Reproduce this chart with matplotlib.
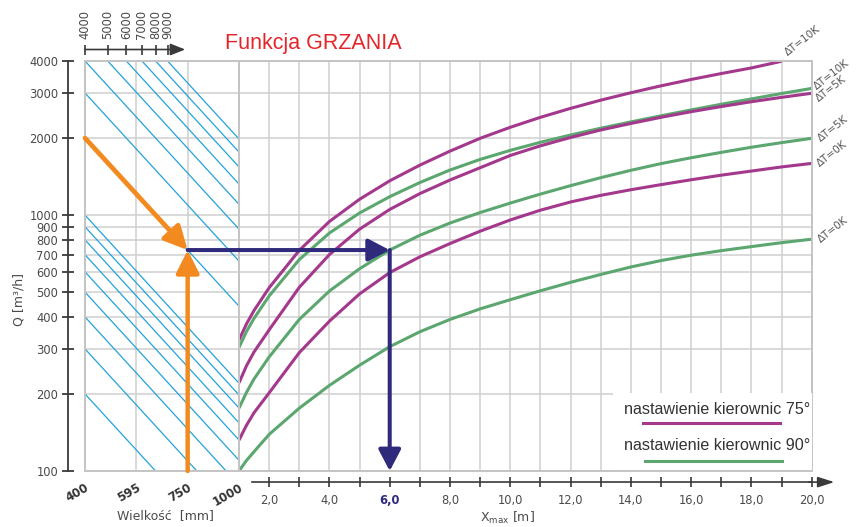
import matplotlib
matplotlib.use("Agg")
import matplotlib.pyplot as plt
from matplotlib.patches import FancyArrowPatch, ConnectionPatch, Rectangle
from matplotlib.ticker import NullLocator, FixedLocator

# ---------------- data ----------------
# Xmax [m] positions of the throw curves
X_CURVE = [1, 1.25, 1.5, 2, 3, 4, 5, 6, 7, 8, 9, 10, 11, 12, 13, 14, 15, 16, 17, 18, 19, 20]
X_75_10K = X_CURVE[:-1]

# Q [m3/h] along each curve
Q75_10K = [325, 376, 424, 520, 728, 944, 1153, 1361, 1567, 1778, 1995, 2203, 2410,
           2612, 2812, 3006, 3199, 3388, 3573, 3758, 3990]
Q75_5K = [221, 258, 292, 356, 522, 701, 881, 1052, 1213, 1371, 1531, 1710, 1865,
          2010, 2150, 2280, 2410, 2535, 2655, 2773, 2884, 2992]
Q75_0K = [132, 151, 169, 202, 290, 385, 492, 596, 687, 774, 865, 957, 1045,
          1125, 1194, 1256, 1315, 1374, 1432, 1486, 1542, 1592]
Q90_10K = [304, 351, 395, 483, 670, 851, 1019, 1180, 1340, 1500, 1650, 1790, 1925,
           2055, 2185, 2312, 2443, 2576, 2710, 2844, 2985, 3126]
Q90_5K = [176, 203, 229, 279, 391, 505, 617, 730, 834, 931, 1023, 1114, 1208,
          1303, 1400, 1496, 1589, 1675, 1758, 1841, 1919, 1995]
Q90_0K = [100, 110, 119, 139, 176, 216, 259, 306, 350, 391, 430, 467, 506,
          546, 586, 627, 664, 697, 726, 753, 780, 805]

# unit size selector (left panel)
SIZES = ["400", "595", "750", "1000"]
SIZE_POS = [0, 1, 2, 3]
# airflow value of each guide line at size 400
GUIDE_Q_AT_400 = [200, 300, 400, 500, 600, 700, 800, 900, 1000,
                  2000, 3000, 4000, 5000, 6000, 7000, 8000, 9000]
# drop of the guide lines per size step, in decades of Q
GUIDE_DECADES_PER_STEP = 0.219
# scale above the selector
TOP_TICKS = [4000, 5000, 6000, 7000, 8000, 9000]

Q_TICKS = [100, 200, 300, 400, 500, 600, 700, 800, 900, 1000, 2000, 3000, 4000]
X_TICKS = list(range(2, 21))

# worked example
EX_Q_START = 2000
EX_SIZE = 2          # 750 mm
EX_Q = 730
EX_X = 6.0

C_M = "#a3388c"
C_G = "#5ca66f"
C_BLUE = "#22a2dd"
C_ORANGE = "#f28a1f"
C_NAVY = "#2f2a7c"
C_GRID = "#cfcfcf"
C_AX = "#3a3a3a"
C_TXT = "#4a4a4a"

W, H = 861, 527
fig = plt.figure(figsize=(W / 100, H / 100), dpi=100)


def box(x0, y0, x1, y1):
    return [x0 / W, 1 - y1 / H, (x1 - x0) / W, (y1 - y0) / H]


ax_l = fig.add_axes(box(85, 61, 239, 471))
ax_r = fig.add_axes(box(239, 61, 811.7, 471))

for ax in (ax_l, ax_r):
    ax.set_yscale("log")
    ax.set_ylim(100, 4000)
    ax.yaxis.set_major_locator(FixedLocator(Q_TICKS))
    ax.yaxis.set_minor_locator(NullLocator())
    ax.grid(True, color=C_GRID, lw=1.1, zorder=0)
    ax.set_axisbelow(True)
    for s in ("top", "right"):
        ax.spines[s].set_color("#c4c4c4")
        ax.spines[s].set_linewidth(1.4)
    ax.axhline(100, color="#c4c4c4", lw=1.4, clip_on=False, zorder=3)

# ---------------- left panel ----------------
ax_l.set_xlim(0, 3)
ax_l.set_xticks(SIZE_POS)
ax_l.set_xticklabels(SIZES)
ax_l.axvline(0, color="#c4c4c4", lw=1.4, clip_on=False, zorder=3)
ax_l.spines["bottom"].set_visible(False)
ax_l.tick_params(axis="x", length=0, pad=7, labelsize=8.5, labelcolor="#333333")
for t in ax_l.get_xticklabels():
    t.set_rotation(30)
    t.set_ha("right")
    t.set_va("top")
    t.set_rotation_mode("anchor")
    t.set_fontweight("bold")

ax_l.spines["left"].set_position(("outward", 12.2))
ax_l.spines["left"].set_color(C_AX)
ax_l.spines["left"].set_linewidth(1.3)
ax_l.set_yticklabels([str(v) for v in Q_TICKS])
ax_l.tick_params(axis="y", direction="inout", length=8, width=1.3, color=C_AX,
                 labelsize=8.3, labelcolor=C_TXT, pad=3)

drop = 10 ** (-GUIDE_DECADES_PER_STEP * SIZE_POS[-1])
for q0 in GUIDE_Q_AT_400:
    ax_l.plot([SIZE_POS[0], SIZE_POS[-1]], [q0, q0 * drop], color=C_BLUE, lw=0.9, zorder=1.8)

# top scale aligned with the guide lines
ax_t = fig.add_axes(box(85, 49.5, 239, 50.5))
ax_t.set_xscale("log")
ax_t.set_xlim(4000, 4000 * 10 ** (GUIDE_DECADES_PER_STEP * SIZE_POS[-1]))
ax_t.set_ylim(0, 1)
ax_t.patch.set_visible(False)
for s in ax_t.spines.values():
    s.set_visible(False)
ax_t.set_yticks([])
ax_t.xaxis.set_major_locator(FixedLocator(TOP_TICKS))
ax_t.xaxis.set_minor_locator(NullLocator())
ax_t.set_xticklabels([str(v) for v in TOP_TICKS])
ax_t.tick_params(axis="x", top=True, bottom=False, labeltop=True, labelbottom=False,
                 direction="inout", length=7, width=1.2, color=C_AX,
                 labelsize=8.3, labelcolor=C_TXT, pad=4, labelrotation=90)
ax_t.annotate("", xy=(10700, 1), xytext=(4000, 1),
              xycoords=("data", "axes fraction"), textcoords=("data", "axes fraction"),
              arrowprops=dict(arrowstyle="-|>,head_length=9,head_width=3.6",
                              color=C_AX, lw=1.2, shrinkA=0, shrinkB=0, mutation_scale=1),
              annotation_clip=False)

# ---------------- right panel ----------------
ax_r.set_xlim(1, 20)
ax_r.xaxis.set_major_locator(FixedLocator(X_TICKS))
ax_r.xaxis.set_minor_locator(NullLocator())
ax_r.set_xticklabels([f"{v:.1f}".replace(".", ",") if v % 2 == 0 else "" for v in X_TICKS])
ax_r.spines["left"].set_visible(False)
ax_r.axvline(1, color="#c4c4c4", lw=1.4, clip_on=False, zorder=3)
ax_r.spines["bottom"].set_position(("outward", 8))
ax_r.spines["bottom"].set_bounds(1.43, 20)
ax_r.spines["bottom"].set_color(C_AX)
ax_r.spines["bottom"].set_linewidth(1.2)
ax_r.tick_params(axis="x", direction="inout", length=7, width=1.2, color=C_AX,
                 labelsize=8.3, labelcolor=C_TXT, pad=5)
ax_r.tick_params(axis="y", length=0, labelleft=False)
for t in ax_r.get_xticklabels():
    if t.get_text() == "6,0":
        t.set_color(C_NAVY)
        t.set_fontweight("bold")
ax_r.annotate("", xy=(20.75, -8 / 72 * 100 / 410), xytext=(19.9, -8 / 72 * 100 / 410),
              xycoords=("data", "axes fraction"), textcoords=("data", "axes fraction"),
              arrowprops=dict(arrowstyle="-|>,head_length=10,head_width=3.2",
                              color=C_AX, lw=1.2, shrinkA=0, shrinkB=0, mutation_scale=1),
              annotation_clip=False)

curves = [
    (X_75_10K, Q75_10K, C_M, (4.5, 3.6)),
    (X_CURVE, Q90_10K, C_G, (3.8, -0.9)),
    (X_CURVE, Q75_5K, C_M, (5.5, -6.0)),
    (X_CURVE, Q90_5K, C_G, (6.5, -2.4)),
    (X_CURVE, Q75_0K, C_M, (6.0, -2.4)),
    (X_CURVE, Q90_0K, C_G, (6.5, -3.1)),
]
labels = ["ΔT=10K", "ΔT=10K", "ΔT=5K", "ΔT=5K", "ΔT=0K", "ΔT=0K"]
for (xs, qs, c, off), lab in zip(curves, labels):
    ax_r.plot(xs, qs, color=c, lw=2.2, zorder=2, solid_capstyle="butt",
              solid_joinstyle="round")
    ax_r.annotate(lab, xy=(xs[-1], qs[-1]), xytext=off, textcoords="offset points",
                  rotation=38, rotation_mode="anchor", ha="left", va="baseline",
                  fontsize=7.5, color="#555555", annotation_clip=False)

# legend panel
ax_r.add_patch(Rectangle((0.653, 0), 0.347, 0.19, transform=ax_r.transAxes,
                         facecolor="white", edgecolor="none", zorder=2.6))
ax_r.plot([0.7054, 0.9446], [0.117, 0.117], color=C_M, lw=2.2,
          transform=ax_r.transAxes, zorder=2.7)
ax_r.plot([0.709, 0.948], [0.0244, 0.0244], color=C_G, lw=2.2,
          transform=ax_r.transAxes, zorder=2.7)
ax_r.text(0.997, 0.149, "nastawienie kierownic 75°", transform=ax_r.transAxes,
          ha="right", va="center", fontsize=11.6, color="#333333",
          family="Liberation Sans", zorder=2.8)
ax_r.text(0.997, 0.061, "nastawienie kierownic 90°", transform=ax_r.transAxes,
          ha="right", va="center", fontsize=11.6, color="#333333",
          family="Liberation Sans", zorder=2.8)

# ---------------- worked example arrows ----------------
orange_style = "-|>,head_length=14,head_width=7"
navy_style = "-|>,head_length=13,head_width=6.8"
ax_l.add_patch(FancyArrowPatch((SIZE_POS[0], EX_Q_START), (EX_SIZE, EX_Q),
                               arrowstyle=orange_style, mutation_scale=1,
                               color=C_ORANGE, lw=3.4, shrinkA=0, shrinkB=0,
                               zorder=4, clip_on=False))
ax_l.add_patch(FancyArrowPatch((EX_SIZE, 100), (EX_SIZE, EX_Q),
                               arrowstyle=orange_style, mutation_scale=1,
                               color=C_ORANGE, lw=3.2, shrinkA=0, shrinkB=0,
                               zorder=4, clip_on=False))
con = ConnectionPatch(xyA=(EX_SIZE, EX_Q), coordsA=ax_l.transData,
                      xyB=(EX_X, EX_Q), coordsB=ax_r.transData,
                      arrowstyle=navy_style, mutation_scale=1,
                      color=C_NAVY, lw=2.9, shrinkA=0, shrinkB=0, zorder=5)
fig.add_artist(con)
ax_r.add_patch(FancyArrowPatch((EX_X, EX_Q), (EX_X, 100),
                               arrowstyle=navy_style, mutation_scale=1,
                               color=C_NAVY, lw=2.9, shrinkA=0, shrinkB=0,
                               zorder=5, clip_on=False))

# ---------------- texts ----------------
fig.text(313 / W, 1 - 43 / H, "Funkcja GRZANIA", color="#e4262b", fontsize=15.5,
         family="Liberation Sans", ha="center", va="center")
fig.text(18.5 / W, 1 - 299 / H, "Q [m³/h]", rotation=90, ha="center", va="center",
         fontsize=9, color=C_TXT)
fig.text(165 / W, 1 - 516 / H, "Wielkość  [mm]", ha="center", va="center",
         fontsize=9, color=C_TXT)
fig.text(507 / W, 1 - 518 / H, r"X$_{\rm max}$ [m]", ha="center", va="center",
         fontsize=9, color=C_TXT)

fig.savefig("out.png", dpi=100)
